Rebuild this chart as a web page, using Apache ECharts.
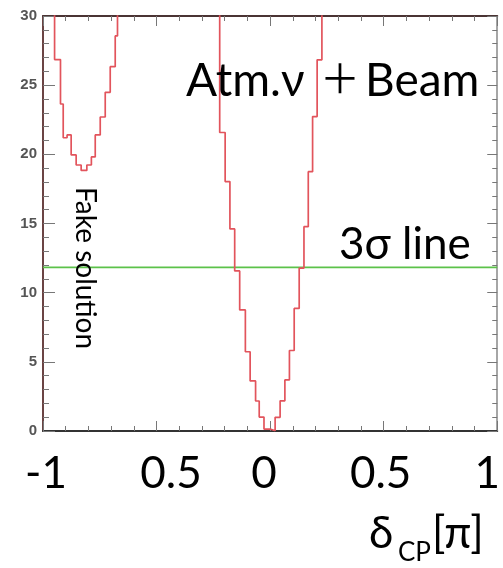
<!DOCTYPE html>
<html>
<head>
<meta charset="utf-8">
<script src="https://cdn.jsdelivr.net/npm/echarts@6/dist/echarts.min.js"></script>
<style>
  html, body { margin: 0; padding: 0; background: #fff; }
  #chart { width: 503px; height: 568px; }
</style>
</head>
<body>
<div id="chart"></div>
<script>
// Δχ² scan versus δCP (in units of π), drawn as a step histogram.
// Each entry of binEdges is the left edge of a bin, chi2 the value in that bin.
// Values of 35 mark bins that are above the plotted range.
const binEdges = [
  -1.000, -0.949, -0.923, -0.911, -0.894, -0.876, -0.854, -0.832, -0.807,
  -0.787, -0.770, -0.748, -0.726, -0.704, -0.682, -0.672,
  -0.222, -0.198, -0.177, -0.156, -0.134, -0.109, -0.088, -0.064, -0.048,
  -0.027, 0.000, 0.022, 0.044, 0.065, 0.085, 0.106, 0.128, 0.149, 0.168,
  0.187, 0.207, 0.228
];
const chi2 = [
  35, 26.85, 23.64, 21.2, 21.4, 19.96, 19.23, 18.84, 19.23,
  19.81, 21.40, 22.70, 24.48, 26.34, 28.56, 35,
  21.58, 18.03, 14.61, 11.57, 8.75, 5.73, 3.62, 2.17, 1.01,
  0.14, 0.02, 0.99, 2.18, 3.69, 5.82, 8.86, 11.78, 14.77, 18.75,
  22.73, 26.83, 35
];
const xEnd = 1.0;

// 3σ threshold (two degrees of freedom)
const sigma3Level = 11.83;

const xTicks = [-1, -0.5, 0, 0.5, 1];
const xTickLabels = ['-1', '0.5', '0', '0.5', '1'];

const bigFont = 'Lato, "Noto Sans", sans-serif';

// histogram points: (left edge, value) with a closing point at the right end
const stepData = binEdges.map((e, i) => [e, chi2[i]]);
stepData.push([xEnd, chi2[chi2.length - 1]]);

const sigmaData = [[-1, sigma3Level], [1, sigma3Level]];

// small horizontal nudges for individual x tick labels
const labelPad = [[0, 0, 0, 6], [0, 0, 0, 29], [0, 12, 0, 0], [0, 6, 0, 0], [0, 20, 0, 0]];
const xRich = {};
labelPad.forEach((p, i) => {
  xRich['t' + i] = { fontSize: 44, fontFamily: bigFont, color: '#000', padding: p };
});

const tickColor = '#777';

function frameAxis(extra) {
  return Object.assign({
    type: 'value',
    splitLine: { show: false },
    axisTick: { show: true, inside: true, length: 10, lineStyle: { color: tickColor, width: 1 } },
    minorTick: { show: true, splitNumber: 5, length: 5, lineStyle: { color: tickColor, width: 1 } }
  }, extra);
}

const chart = echarts.init(document.getElementById('chart'), null, { renderer: 'canvas' });

chart.setOption({
  backgroundColor: '#fff',
  animation: false,
  grid: { left: 43, right: 3, top: 16, bottom: 137, containLabel: false },
  xAxis: [
    frameAxis({
      position: 'bottom', min: -1, max: 1, interval: 0.5,
      axisLine: { show: true, onZero: false, lineStyle: { color: '#333', width: 2 } },
      axisLabel: {
        margin: 21,
        formatter: function (v) {
          const i = xTicks.findIndex(t => Math.abs(t - v) < 1e-9);
          return i < 0 ? '' : '{t' + i + '|' + xTickLabels[i] + '}';
        },
        rich: xRich
      }
    }),
    frameAxis({
      position: 'top', min: -1, max: 1, interval: 0.5,
      axisLine: { show: true, onZero: false, lineStyle: { color: '#4a3434', width: 2 } },
      axisLabel: { show: false }
    })
  ],
  yAxis: [
    frameAxis({
      position: 'left', min: 0, max: 30, interval: 5,
      axisLine: { show: true, onZero: false, lineStyle: { color: '#6b4444', width: 2 } },
      axisTick: { show: true, inside: true, length: 12, lineStyle: { color: tickColor, width: 1 } },
      minorTick: { show: true, splitNumber: 5, length: 6, lineStyle: { color: tickColor, width: 1 } },
      axisLabel: {
        margin: 6, fontSize: 15, fontWeight: 'bold', color: '#555',
        fontFamily: '"Liberation Sans", Arial, sans-serif'
      }
    }),
    frameAxis({
      position: 'right', min: 0, max: 30, interval: 5,
      axisLine: { show: true, onZero: false, lineStyle: { color: '#888', width: 1.5 } },
      axisLabel: { show: false }
    })
  ],
  series: [
    {
      name: '3σ line',
      type: 'line',
      xAxisIndex: 0, yAxisIndex: 0,
      data: sigmaData,
      symbol: 'none',
      lineStyle: { color: '#5cc24a', width: 1.6 },
      z: 2
    },
    {
      name: 'Atm.ν+Beam',
      type: 'line',
      xAxisIndex: 0, yAxisIndex: 0,
      data: stepData,
      step: 'end',
      symbol: 'none',
      clip: true,
      lineStyle: { color: '#e2545c', width: 1.7 },
      z: 3
    }
  ],
  graphic: [
    { type: 'text', left: 186, top: 58, z: 10,
      style: { text: 'Atm.ν', font: '46px ' + bigFont, fill: '#000' } },
    { type: 'text', left: 320, top: 58, z: 10,
      style: { text: '＋', font: '40px "Noto Sans CJK JP"', fill: '#000' } },
    { type: 'text', left: 365, top: 58, z: 10,
      style: { text: 'Beam', font: '46px ' + bigFont, fill: '#000' } },
    { type: 'text', left: 339, top: 223, z: 10,
      style: { text: '3σ line', font: '44px ' + bigFont, fill: '#000' } },
    { type: 'text', x: 85, y: 187, rotation: -Math.PI / 2, z: 10,
      style: { text: 'Fake solution', font: '28px ' + bigFont, fill: '#000',
               align: 'left', verticalAlign: 'middle' } },
    { type: 'text', left: 369, top: 512, z: 10,
      style: { text: 'δ', font: '44px ' + bigFont, fill: '#000' } },
    { type: 'text', left: 398, top: 540, z: 10,
      style: { text: 'CP', font: '26px ' + bigFont, fill: '#000' } },
    { type: 'text', left: 432, top: 512, z: 10,
      style: { text: '[π]', font: '44px ' + bigFont, fill: '#000' } }
  ]
});
</script>
</body>
</html>
